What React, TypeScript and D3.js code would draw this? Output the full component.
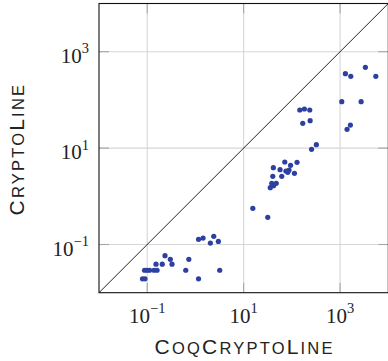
import React from "react";
import * as d3 from "d3";

// CoqCryptoLine time (s) vs CryptoLine time (s)
const coqTimes: number[] = [
  3350, 1288, 1667, 5510, 1084, 2730, 1637, 1396,
  146, 182, 235, 168, 239, 322, 256,
  71.3, 128, 41.3, 94, 56.9, 75.2, 87.5, 82.2, 113, 40.2, 61.7,
  38.3, 41.7, 47.4, 35.6, 15.5, 31.6,
  1.16, 1.44, 2.4, 2.04, 2.99,
  0.234, 0.301, 0.327, 0.205, 0.152, 0.73, 0.63, 3.19, 1.16,
  0.088, 0.099, 0.112, 0.138, 0.16, 0.0798, 0.09,
];
const cryptoTimes: number[] = [
  474, 350, 309, 309, 91.8, 92, 30.1, 24.5,
  61.7, 64.7, 61.7, 32.7, 37, 11.8, 9.44,
  5.15, 5.07, 3.92, 4.4, 3.56, 3.35, 3.51, 3.15, 3.0, 2.6, 2.6,
  1.86, 1.66, 1.86, 1.51, 0.564, 0.367,
  0.128, 0.136, 0.148, 0.107, 0.116,
  0.0586, 0.0493, 0.039, 0.039, 0.039, 0.0493, 0.0292, 0.0292, 0.0194,
  0.0292, 0.0292, 0.0292, 0.0292, 0.0292, 0.0194, 0.0194,
];
const tickValues: number[] = [0.1, 10, 1000];
const tickExponents: string[] = ["\u22121", "1", "3"];
const domain: [number, number] = [1e-2, 1e4];

const W = 388;
const H = 361;
const left = 99;
const right = 388.3;
const top = 3.5;
const bottom = 292.7;

const serif = "'Liberation Serif', 'DejaVu Serif', serif";
const sans = "'Liberation Sans', Arial, sans-serif";

function SmallCaps({ text, big, small }: { text: string; big: number; small: number }) {
  // Uppercase letters in text are big capitals, lowercase are small caps
  const parts: { t: string; s: number }[] = [];
  for (const ch of text) {
    const isUpper = ch === ch.toUpperCase();
    const size = isUpper ? big : small;
    const last = parts[parts.length - 1];
    if (last && last.s === size) last.t += ch.toUpperCase();
    else parts.push({ t: ch.toUpperCase(), s: size });
  }
  return (
    <>
      {parts.map((p, i) => (
        <tspan key={i} fontSize={p.s}>
          {p.t}
        </tspan>
      ))}
    </>
  );
}

export default function App() {
  const x = d3.scaleLog().domain(domain).range([left, right]);
  const y = d3.scaleLog().domain(domain).range([bottom, top]);
  const gridColor = "#d6d6d6";
  const tickColor = "#a6a6a6";
  const tickLen = 10;
  const dotColor = "#2d40a0";

  return (
    <svg
      width={W}
      height={H}
      style={{ position: "fixed", left: 0, top: 0 }}
      xmlns="http://www.w3.org/2000/svg"
    >
      <rect x={0} y={0} width={W} height={H} fill="#fff" />
      {/* grid */}
      {tickValues.map((v, i) => (
        <g key={"g" + i}>
          <line x1={x(v)} x2={x(v)} y1={top} y2={bottom} stroke={gridColor} strokeWidth={1.1} />
          <line x1={left} x2={right} y1={y(v)} y2={y(v)} stroke={gridColor} strokeWidth={1.1} />
        </g>
      ))}
      {/* ticks */}
      {tickValues.map((v, i) => (
        <g key={"t" + i} stroke={tickColor} strokeWidth={1.1}>
          <line x1={x(v)} x2={x(v)} y1={bottom} y2={bottom - tickLen} />
          <line x1={x(v)} x2={x(v)} y1={top} y2={top + tickLen} />
          <line x1={left} x2={left + tickLen} y1={y(v)} y2={y(v)} />
          <line x1={right} x2={right - tickLen} y1={y(v)} y2={y(v)} />
        </g>
      ))}
      {/* diagonal */}
      <line
        x1={x(domain[0])}
        y1={y(domain[0])}
        x2={x(domain[1])}
        y2={y(domain[1])}
        stroke="#222"
        strokeWidth={1}
      />
      {/* points */}
      {coqTimes.map((cx, i) => (
        <circle key={"p" + i} cx={x(cx)} cy={y(cryptoTimes[i])} r={2.6} fill={dotColor} />
      ))}
      {/* frame */}
      <rect
        x={left}
        y={top}
        width={right - left}
        height={bottom - top}
        fill="none"
        stroke="#111"
        strokeWidth={1.1}
      />
      {/* x tick labels */}
      {tickValues.map((v, i) => (
        <text key={"xl" + i} x={x(v)} y={322.7} textAnchor="middle" fontFamily={serif} fontSize={21} fill="#222">
          10
          <tspan fontSize={14.5} dy={-9.4}>
            {tickExponents[i]}
          </tspan>
        </text>
      ))}
      {/* y tick labels */}
      {tickValues.map((v, i) => (
        <text key={"yl" + i} x={89} y={y(v) + 11} textAnchor="end" fontFamily={serif} fontSize={21} fill="#222">
          10
          <tspan fontSize={14.5} dy={-9.4}>
            {tickExponents[i]}
          </tspan>
        </text>
      ))}
      {/* axis titles */}
      <text
        x={(left + right) / 2 + 1}
        y={354}
        textAnchor="middle"
        fontFamily={sans}
        letterSpacing={2.2}
        fill="#222"
      >
        <SmallCaps text="CoqCryptoLine" big={21} small={16.5} />
      </text>
      <text
        transform={`translate(24,${(top + bottom) / 2 + 1}) rotate(-90)`}
        textAnchor="middle"
        fontFamily={sans}
        letterSpacing={2.2}
        fill="#222"
      >
        <SmallCaps text="CryptoLine" big={21} small={16.5} />
      </text>
    </svg>
  );
}
